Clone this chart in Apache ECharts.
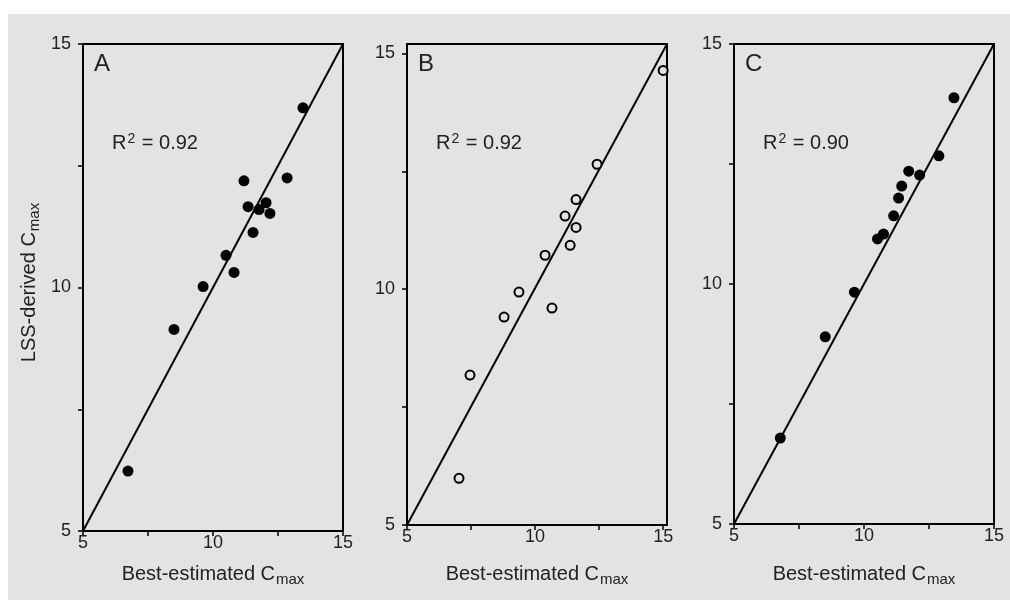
<!DOCTYPE html>
<html>
<head>
<meta charset="utf-8">
<script src="https://cdn.jsdelivr.net/npm/echarts@6.0.0/dist/echarts.min.js"></script>
<style>
  html, body { margin: 0; padding: 0; background: #fff; }
  #wrap { position: relative; width: 1010px; height: 600px; }
  #bg { position: absolute; left: 8px; top: 14px; right: 0; bottom: 0; background: #e3e3e3; }
  #main { position: absolute; left: 0; top: 0; width: 1010px; height: 600px; }
</style>
</head>
<body>
<div id="wrap">
  <div id="bg"></div>
  <div id="main"></div>
</div>
<script>
// panel A - filled markers
const aX = [6.73, 8.5, 9.62, 10.5, 10.81, 11.19, 11.35, 11.54, 11.77, 12.04, 12.19, 12.85, 13.46];
const aY = [6.23, 9.14, 10.02, 10.66, 10.31, 12.19, 11.66, 11.13, 11.6, 11.74, 11.52, 12.25, 13.69];
// panel B - open markers
const bX = [7.03, 7.46, 8.79, 9.37, 10.66, 10.39, 11.37, 11.6, 11.17, 11.6, 12.42, 15.0];
const bY = [5.99, 8.18, 9.41, 9.94, 9.6, 10.72, 10.93, 11.31, 11.55, 11.9, 12.65, 14.64];
// panel C - filled markers
const cX = [6.78, 8.51, 9.63, 10.52, 10.75, 11.14, 11.33, 11.45, 11.72, 12.14, 12.88, 13.46];
const cY = [6.79, 8.9, 9.83, 10.94, 11.04, 11.42, 11.79, 12.04, 12.35, 12.27, 12.67, 13.88];

// fitted lines (end points)
const fitA = [[5, 5], [15, 15]];
const fitB = [[5, 5], [15.15, 15.2]];
const fitC = [[5, 5], [15, 15]];

const panelNames = ["A", "B", "C"];
const r2Labels = ["0.92", "0.92", "0.90"];
const tickValues = [5, 7.5, 10, 12.5, 15];
const labelValues = [5, 10, 15];

const fnt = "Liberation Sans";
const txt = "#222";
const bgGray = "#e3e3e3";

const zip = (xs, ys) => xs.map((x, i) => [x, ys[i]]);

const grids = [
  { left: 83, top: 44, width: 260, height: 487 },
  { left: 407, top: 44, width: 260, height: 481 },
  { left: 734, top: 44, width: 260, height: 480 },
];
const xMax = [15, 15.15, 15];
const yMax = [15, 15.2, 15];
const xNameGap = [31, 37, 38];

const subRich = {
  n: { fontSize: 20, fontFamily: fnt, color: txt },
  s: { fontSize: 15, fontFamily: fnt, color: txt, padding: [10, 0, 0, 1] },
};

const axisCommon = (max) => ({
  type: "value",
  min: 5,
  max: max,
  interval: 2.5,
  axisLine: { show: true, onZero: false, lineStyle: { color: "#000", width: 2 } },
  axisTick: { show: true, length: 5, customValues: tickValues, lineStyle: { color: "#000", width: 1.5 } },
  splitLine: { show: false },
});

const xAxes = grids.map((g, i) => ({
  ...axisCommon(xMax[i]),
  gridIndex: i,
  axisLabel: {
    customValues: labelValues,
    fontSize: 18, fontFamily: fnt, color: txt, margin: 3,
    formatter: (v) => (v % 5 === 0 ? String(v) : ""),
  },
  name: "{n|Best-estimated C}{s|max}",
  nameLocation: "middle",
  nameGap: xNameGap[i],
  nameTextStyle: { rich: subRich },
}));

const yAxes = grids.map((g, i) => ({
  ...axisCommon(yMax[i]),
  gridIndex: i,
  axisLabel: {
    customValues: labelValues,
    fontSize: 18, fontFamily: fnt, color: txt, margin: 12,
    formatter: (v) => (v % 5 === 0 ? String(v) : ""),
  },
  name: i === 0 ? "{n|LSS-derived C}{s|max}" : "",
  nameLocation: "middle",
  nameRotate: 90,
  nameGap: 41,
  nameTextStyle: { rich: subRich, padding: [0, 0, 0, 10] },
}));

const pts = [zip(aX, aY), zip(bX, bY), zip(cX, cY)];
const fits = [fitA, fitB, fitC];

const series = [];
pts.forEach((d, i) => {
  series.push({
    type: "line",
    xAxisIndex: i,
    yAxisIndex: i,
    data: fits[i],
    symbol: "none",
    silent: true,
    lineStyle: { color: "#000", width: 2 },
    z: 3,
  });
  series.push({
    type: "scatter",
    xAxisIndex: i,
    yAxisIndex: i,
    data: d,
    symbol: "circle",
    symbolSize: i === 1 ? 9 : 11,
    itemStyle: i === 1
      ? { color: bgGray, borderColor: "#000", borderWidth: 2, opacity: 1 }
      : { color: "#000", opacity: 1 },
    z: 4,
  });
});

// panel letters and R² text
const graphic = [];
grids.forEach((g, i) => {
  graphic.push({
    type: "text",
    left: g.left + 11,
    top: 52,
    style: { text: panelNames[i], font: "24px " + fnt, fill: txt },
  });
  graphic.push({
    type: "text",
    left: g.left + 29,
    top: 132,
    style: {
      text: "{r|R}{s|2}{r| = " + r2Labels[i] + "}",
      rich: {
        r: { fontSize: 20, fontFamily: fnt, fill: txt },
        s: { fontSize: 14, fontFamily: fnt, fill: txt, padding: [0, 1, 9, 1] },
      },
    },
  });
});

const chart = echarts.init(document.getElementById("main"));
chart.setOption({
  backgroundColor: "transparent",
  animation: false,
  grid: grids.map((g) => ({ ...g, show: true, borderColor: "#000", borderWidth: 2, backgroundColor: "transparent" })),
  xAxis: xAxes,
  yAxis: yAxes,
  series: series,
  graphic: graphic,
});
</script>
</body>
</html>
